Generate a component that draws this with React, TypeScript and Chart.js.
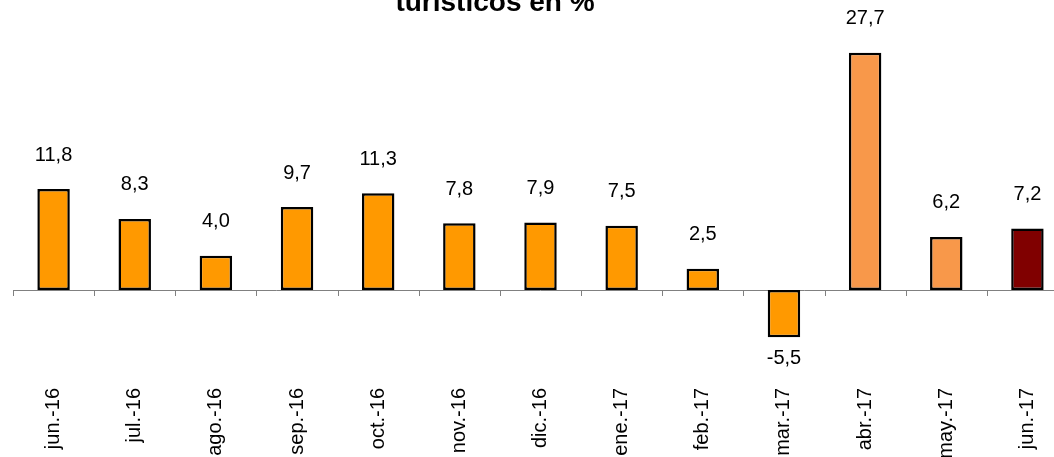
import React, { useEffect, useRef } from "react";
import { Chart, registerables } from "chart.js";

Chart.register(...registerables);

const categories = [
  "jun.-16", "jul.-16", "ago.-16", "sep.-16", "oct.-16", "nov.-16", "dic.-16",
  "ene.-17", "feb.-17", "mar.-17", "abr.-17", "may.-17", "jun.-17",
];
const values = [11.8, 8.3, 4.0, 9.7, 11.3, 7.8, 7.9, 7.5, 2.5, -5.5, 27.7, 6.2, 7.2];
const barColors = [
  "#FF9900", "#FF9900", "#FF9900", "#FF9900", "#FF9900", "#FF9900", "#FF9900",
  "#FF9900", "#FF9900", "#FF9900", "#F8984A", "#F8984A", "#800000",
];
const titleText = "turísticos en %";

const FONT = "'Liberation Sans', Arial, sans-serif";

const fmt = (v: number) => v.toFixed(1).replace(".", ",");

const overlayPlugin = {
  id: "overlay",
  beforeDatasetsDraw(chart: any) {
    const { ctx, chartArea, scales } = chart;
    const y0 = scales.y.getPixelForValue(0);
    const xs = scales.x;
    const step = xs.getPixelForValue(1) - xs.getPixelForValue(0);
    ctx.save();
    ctx.strokeStyle = "#808080";
    ctx.lineWidth = 1;
    ctx.beginPath();
    ctx.moveTo(chartArea.left, Math.round(y0) + 0.5);
    ctx.lineTo(chartArea.right, Math.round(y0) + 0.5);
    const n = categories.length;
    for (let i = 0; i <= n; i++) {
      const x = i < n ? xs.getPixelForValue(i) - step / 2 : xs.getPixelForValue(n - 1) + step / 2;
      ctx.moveTo(Math.round(x) + 0.5, Math.round(y0));
      ctx.lineTo(Math.round(x) + 0.5, Math.round(y0) + 6);
    }
    ctx.stroke();
    ctx.restore();
  },
  afterDatasetsDraw(chart: any) {
    const { ctx } = chart;
    const meta = chart.getDatasetMeta(0);
    ctx.save();
    ctx.fillStyle = "#000";
    ctx.font = `20px ${FONT}`;
    ctx.textAlign = "center";
    ctx.textBaseline = "middle";
    meta.data.forEach((bar: any, i: number) => {
      const v = values[i];
      const y = v >= 0 ? bar.y - 34 : bar.y + 21;
      ctx.fillText(fmt(v), bar.x, y);
    });
    ctx.font = `bold 28px ${FONT}`;
    ctx.textBaseline = "alphabetic";
    ctx.fillText(titleText, 495, 11);
    ctx.restore();
  },
};

export default function App() {
  const ref = useRef<HTMLCanvasElement | null>(null);
  useEffect(() => {
    if (!ref.current) return;
    const chart = new Chart(ref.current, {
      type: "bar",
      data: {
        labels: categories,
        datasets: [
          {
            data: values,
            backgroundColor: barColors,
            borderColor: "#000",
            borderWidth: 2.5,
            borderSkipped: false,
            barPercentage: 0.4,
            categoryPercentage: 1,
          },
        ],
      },
      options: {
        animation: false,
        responsive: false,
        maintainAspectRatio: false,
        layout: { padding: { left: 13, right: 12, top: 16, bottom: 0 } },
        plugins: { legend: { display: false }, tooltip: { enabled: false }, title: { display: false } },
        scales: {
          x: {
            grid: { display: false, drawTicks: false },
            border: { display: false },
            ticks: {
              color: "#000",
              font: { family: FONT, size: 20 },
              maxRotation: 90,
              minRotation: 90,
              autoSkip: false,
              padding: 8,
            },
            afterFit: (scale: any) => {
              scale.height = 77;
            },
          },
          y: {
            display: false,
            min: -10.5,
            max: 32,
          },
        },
      },
      plugins: [overlayPlugin],
    });
    return () => chart.destroy();
  }, []);
  return (
    <div style={{ position: "fixed", left: 0, top: 0, width: 1054, height: 457, overflow: "hidden", background: "#fff" }}>
      <canvas ref={ref} width={1080} height={457} style={{ position: "absolute", left: 0, top: 0 }} />
    </div>
  );
}
